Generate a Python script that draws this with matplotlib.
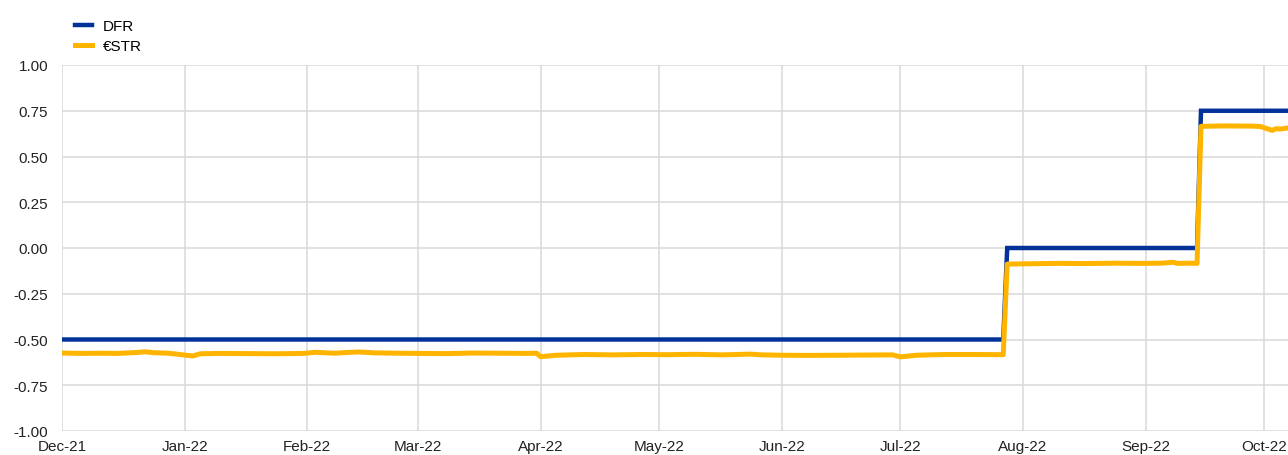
import matplotlib
matplotlib.use("Agg")
import matplotlib.pyplot as plt
import matplotlib.dates as mdates
import pandas as pd

plt.rcParams['font.family'] = ['Liberation Sans', 'DejaVu Sans']

# DFR (deposit facility rate)
dfr_dates = ["2021-12-01", "2022-07-27", "2022-07-28", "2022-09-14", "2022-09-15", "2022-10-07"]
dfr_values = [-0.50, -0.50, 0.00, 0.00, 0.75, 0.75]

# €STR
estr_dates = [
    "2021-12-01", "2021-12-06", "2021-12-10", "2021-12-15", "2021-12-20", "2021-12-22",
    "2021-12-24", "2021-12-28", "2021-12-30", "2022-01-03", "2022-01-05", "2022-01-10",
    "2022-01-17", "2022-01-24", "2022-01-31", "2022-02-03", "2022-02-08", "2022-02-11",
    "2022-02-14", "2022-02-18", "2022-02-24", "2022-03-01", "2022-03-08", "2022-03-15",
    "2022-03-22", "2022-03-29", "2022-03-31", "2022-04-01", "2022-04-05", "2022-04-12",
    "2022-04-19", "2022-04-26", "2022-05-03", "2022-05-10", "2022-05-17", "2022-05-24",
    "2022-05-27", "2022-06-01", "2022-06-08", "2022-06-15", "2022-06-22", "2022-06-29",
    "2022-07-01", "2022-07-05", "2022-07-12", "2022-07-19", "2022-07-27", "2022-07-28",
    "2022-08-03", "2022-08-10", "2022-08-17", "2022-08-24", "2022-08-31", "2022-09-05",
    "2022-09-08", "2022-09-09", "2022-09-12", "2022-09-14", "2022-09-15", "2022-09-21",
    "2022-09-28", "2022-09-30", "2022-10-03", "2022-10-04", "2022-10-05", "2022-10-07",
]
estr_values = [
    -0.574, -0.576, -0.575, -0.576, -0.571, -0.567,
    -0.572, -0.575, -0.580, -0.590, -0.578, -0.576,
    -0.577, -0.578, -0.576, -0.570, -0.575, -0.571,
    -0.568, -0.573, -0.575, -0.576, -0.577, -0.574,
    -0.575, -0.576, -0.575, -0.594, -0.586, -0.582,
    -0.584, -0.582, -0.583, -0.581, -0.584, -0.580,
    -0.584, -0.586, -0.587, -0.586, -0.585, -0.584,
    -0.595, -0.586, -0.582, -0.582, -0.583, -0.088,
    -0.086, -0.084, -0.085, -0.083, -0.084, -0.083,
    -0.078, -0.084, -0.083, -0.084, 0.665, 0.667,
    0.666, 0.664, 0.643, 0.652, 0.650, 0.656,
]

y_ticks = [-1.00, -0.75, -0.50, -0.25, 0.00, 0.25, 0.50, 0.75, 1.00]
x_start, x_end = "2021-12-01", "2022-10-07"

BLUE = "#003299"
YELLOW = "#FFB400"

W, H = 1288, 456
fig = plt.figure(figsize=(W / 100, H / 100), dpi=100)
ax = fig.add_axes([62 / W, (H - 432) / H, (W - 62) / W, (432 - 66) / H])

ax.plot(pd.to_datetime(dfr_dates), dfr_values, color=BLUE, lw=3.2, label="DFR",
        solid_joinstyle="miter", zorder=3)
ax.plot(pd.to_datetime(estr_dates), estr_values, color=YELLOW, lw=3.6, label="€STR",
        solid_joinstyle="round", zorder=4)

ax.set_xlim(pd.Timestamp(x_start), pd.Timestamp(x_end))
ax.set_ylim(-1.0, 1.0)
ax.set_yticks(y_ticks)
ax.yaxis.set_major_formatter(matplotlib.ticker.FormatStrFormatter('%.2f'))
ax.xaxis.set_major_locator(mdates.MonthLocator())
ax.xaxis.set_major_formatter(mdates.DateFormatter('%b-%y'))

ax.grid(True, color="#d9d9d9", lw=1.1)
ax.set_axisbelow(True)
for s in ax.spines.values():
    s.set_visible(False)
ax.tick_params(axis='both', length=0, labelsize=11, colors="#222222")
ax.tick_params(axis='y', pad=10)
ax.tick_params(axis='x', pad=6)

fig.legend(loc="upper left", bbox_to_anchor=(75 / W, 1 - 20 / H), frameon=False,
           fontsize=11, handlelength=1.1, handletextpad=0.7, labelspacing=0.42,
           borderpad=0, borderaxespad=0)

fig.savefig("out.png", dpi=100)
